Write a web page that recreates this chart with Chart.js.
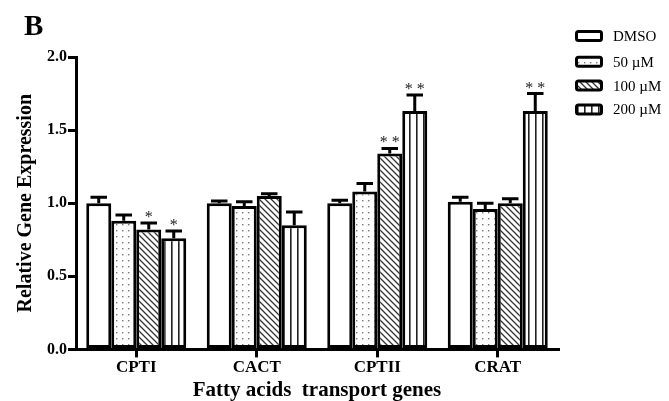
<!DOCTYPE html>
<html>
<head>
<meta charset="utf-8">
<script src="https://cdn.jsdelivr.net/npm/chart.js@4.4.1/dist/chart.umd.min.js"></script>
<style>
    html, body { margin: 0; padding: 0; background: #fff; }
    #wrap { width: 669px; height: 401px; position: relative; }
</style>
</head>
<body>
<div id="wrap"><canvas id="myChart"></canvas></div>
<script>
    var categories = ["CPTI", "CACT", "CPTII", "CRAT"]
    var seriesNames = ["DMSO", "50 \u00b5M", "100 \u00b5M", "200 \u00b5M"]

    var dmso = [1.00, 1.00, 1.00, 1.01]
    var uM50 = [0.88, 0.98, 1.08, 0.96]
    var uM100 = [0.82, 1.05, 1.34, 1.00]
    var uM200 = [0.76, 0.85, 1.63, 1.63]

    var dmsoErr = [0.04, 0.015, 0.02, 0.03]
    var uM50Err = [0.04, 0.03, 0.055, 0.04]
    var uM100Err = [0.045, 0.015, 0.035, 0.03]
    var uM200Err = [0.05, 0.09, 0.11, 0.12]

    var uM100Stars = ["*", "", "**", ""]
    var uM200Stars = ["*", "", "**", "**"]

    var yTicks = [0, 0.5, 1.0, 1.5, 2.0]

    var serif = "'Liberation Serif', 'Times New Roman', serif"

    function makePattern(kind) {
        var c = document.createElement("canvas")
        var s = kind === "dots" ? 6 : (kind === "diag" ? 6 : 7)
        c.width = s; c.height = s
        var g = c.getContext("2d")
        g.fillStyle = "#fff"
        g.fillRect(0, 0, s, s)
        if (kind === "dots") {
            g.fillStyle = "#777"
            g.fillRect(2, 2, 1.4, 1.4)
        } else if (kind === "diag") {
            g.strokeStyle = "#333"
            g.lineWidth = 1.3
            g.beginPath()
            g.moveTo(0, 0); g.lineTo(s, s)
            g.moveTo(-s, 0); g.lineTo(s, 2 * s)
            g.moveTo(0, -s); g.lineTo(2 * s, s)
            g.stroke()
        } else if (kind === "vert") {
            g.fillStyle = "#222"
            g.fillRect(3, 0, 1.6, s)
        }
        return document.getElementById("myChart").getContext("2d").createPattern(c, "repeat")
    }

    var errors = [dmsoErr, uM50Err, uM100Err, uM200Err]
    var stars = [null, null, uM100Stars, uM200Stars]

    var errorBars = {
        id: "errorBars",
        afterDatasetsDraw: function (chart) {
            var ctx = chart.ctx
            var yScale = chart.scales.y
            ctx.save()
            chart.data.datasets.forEach(function (ds, i) {
                var meta = chart.getDatasetMeta(i)
                meta.data.forEach(function (bar, j) {
                    var top = yScale.getPixelForValue(ds.data[j] + errors[i][j])
                    var half = bar.width * 0.33
                    ctx.strokeStyle = "#000"
                    ctx.lineWidth = 3
                    ctx.beginPath()
                    ctx.moveTo(bar.x, bar.y)
                    ctx.lineTo(bar.x, top)
                    ctx.moveTo(bar.x - half, top)
                    ctx.lineTo(bar.x + half, top)
                    ctx.stroke()
                    if (stars[i] && stars[i][j]) {
                        ctx.fillStyle = "#222"
                        ctx.font = "16px " + serif
                        ctx.textAlign = "center"
                        ctx.textBaseline = "alphabetic"
                        ctx.fillText(stars[i][j].split("").join(" "), bar.x, top - 1)
                    }
                })
            })
            ctx.restore()
        }
    }

    // panel letter and legend drawn by hand, beside the plot
    var sideParts = {
        id: "sideParts",
        afterDraw: function (chart) {
            var ctx = chart.ctx
            ctx.save()
            ctx.fillStyle = "#000"
            ctx.font = "bold 29px " + serif
            ctx.textAlign = "left"
            ctx.textBaseline = "alphabetic"
            ctx.fillText("B", 24, 35)

            var x0 = 575, y0 = 36, step = 23.8
            chart.data.datasets.forEach(function (ds, i) {
                var cy = y0 + i * step + (i > 0 ? 2 : 0)
                ctx.beginPath()
                ctx.roundRect(x0 + 1.5, cy - 4.5, 25, 9, 2)
                ctx.fillStyle = ds.backgroundColor
                ctx.fill()
                ctx.lineWidth = 3
                ctx.strokeStyle = "#000"
                ctx.stroke()
                ctx.fillStyle = "#000"
                ctx.font = "15px " + serif
                ctx.textBaseline = "middle"
                ctx.fillText(ds.label, 613, cy + 1)
            })
            ctx.restore()
        }
    }

    var fills = ["#fff", makePattern("dots"), makePattern("diag"), makePattern("vert")]
    var series = [dmso, uM50, uM100, uM200]

    new Chart(document.getElementById("myChart"), {
        type: "bar",
        data: {
            labels: categories,
            datasets: series.map(function (vals, i) {
                return {
                    label: seriesNames[i],
                    data: vals,
                    backgroundColor: fills[i],
                    borderColor: "#000",
                    borderWidth: 3,
                    borderSkipped: false,
                    categoryPercentage: 0.83,
                    barPercentage: 1.0
                }
            })
        },
        plugins: [errorBars, sideParts],
        options: {
            responsive: true,
            maintainAspectRatio: false,
            animation: false,
            layout: { padding: { left: 14, right: 111, top: 57, bottom: -2 } },
            plugins: {
                legend: { display: false },
                tooltip: { enabled: false }
            },
            scales: {
                x: {
                    grid: { display: true, drawOnChartArea: false, offset: false, color: "#000", lineWidth: 3, tickLength: 8 },
                    border: { color: "#000", width: 3 },
                    ticks: { color: "#000", font: { family: serif, size: 17, weight: "bold" }, padding: 0 },
                    title: {
                        display: true,
                        text: "Fatty acids  transport genes",
                        color: "#000",
                        font: { family: serif, size: 21, weight: "bold" },
                        padding: { top: 0, bottom: 0 }
                    }
                },
                y: {
                    min: 0,
                    max: 2.0,
                    afterBuildTicks: function (axis) {
                        axis.ticks = yTicks.map(function (v) { return { value: v } })
                    },
                    grid: { display: true, drawOnChartArea: false, color: "#000", lineWidth: 3, tickLength: 8 },
                    border: { color: "#000", width: 3 },
                    ticks: {
                        color: "#000",
                        font: { family: serif, size: 16, weight: "bold" },
                        padding: 1,
                        callback: function (v) { return Number(v).toFixed(1) }
                    },
                    title: {
                        display: true,
                        text: "Relative Gene Expression",
                        color: "#000",
                        font: { family: serif, size: 20, weight: "bold" },
                        padding: { top: 0, bottom: 8 }
                    }
                }
            }
        }
    })
</script>
</body>
</html>
